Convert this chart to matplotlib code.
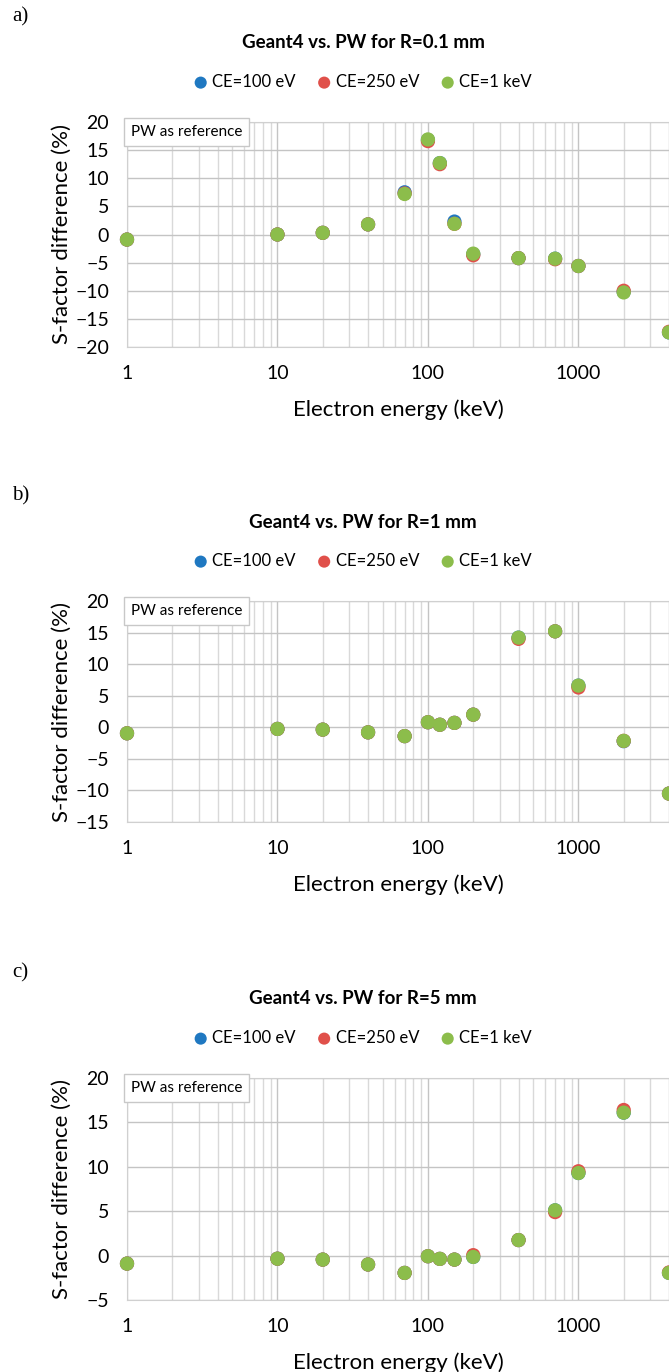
import numpy as np
import matplotlib
matplotlib.use("Agg")
from matplotlib import pyplot as plt
from matplotlib.ticker import FixedLocator, LogLocator, NullFormatter

plt.rcParams['font.family'] = ['Lato', 'DejaVu Sans']

energy = [1, 10, 20, 40, 70, 100, 120, 150, 200, 400, 700, 1000, 2000, 4000]

# panel a) R = 0.1 mm
a_ce100 = [-0.9, 0.0, 0.3, 1.8, 7.5, 16.8, 12.7, 2.3, -3.5, -4.2, -4.3, -5.6, -10.2, -17.4]
a_ce250 = [-0.9, 0.0, 0.3, 1.8, 7.3, 16.6, 12.5, 1.9, -3.7, -4.2, -4.4, -5.6, -10.0, -17.3]
a_ce1k = [-0.9, 0.0, 0.3, 1.8, 7.2, 16.9, 12.7, 1.9, -3.4, -4.2, -4.3, -5.6, -10.3, -17.4]

# panel b) R = 1 mm
b_ce100 = [-0.95, -0.26, -0.37, -0.8, -1.4, 0.8, 0.4, 0.7, 2.0, 14.2, 15.2, 6.6, -2.2, -10.5]
b_ce250 = [-0.95, -0.26, -0.37, -0.8, -1.4, 0.8, 0.4, 0.7, 2.0, 14.0, 15.2, 6.3, -2.15, -10.5]
b_ce1k = [-0.95, -0.26, -0.37, -0.8, -1.4, 0.8, 0.4, 0.7, 2.0, 14.2, 15.2, 6.6, -2.15, -10.5]

# panel c) R = 5 mm
c_ce100 = [-0.9, -0.35, -0.45, -1.0, -1.95, -0.07, -0.37, -0.45, -0.15, 1.75, 5.1, 9.3, 16.1, -1.95]
c_ce250 = [-0.9, -0.35, -0.45, -1.0, -1.95, -0.07, -0.37, -0.45, 0.05, 1.75, 4.9, 9.5, 16.4, -1.9]
c_ce1k = [-0.9, -0.35, -0.45, -1.0, -1.95, -0.07, -0.37, -0.45, -0.15, 1.75, 5.1, 9.3, 16.1, -1.95]

series_names = ['CE=100 eV', 'CE=250 eV', 'CE=1 keV']
colors = ['#1f78c1', '#e0504a', '#8cbd4b']

W, H = 669, 1372
fig = plt.figure(figsize=(W / 100, H / 100), dpi=100)

LEFT, RIGHT = 127, 669
CX = 363  # centre of title and legend


def fx(x):
    return x / W


def fy(y):
    return 1 - y / H


def panel(letter, title, ys, ylim, yticks, top, bottom):
    fig.text(fx(12), fy(top - 105), letter, fontsize=15, family='Liberation Serif',
             va='center', ha='left')
    fig.text(fx(CX), fy(top - 79), title, fontsize=13.5, fontweight='bold',
             va='center', ha='center')

    ax = fig.add_axes([fx(LEFT), fy(bottom), (RIGHT - LEFT) / W, (bottom - top) / H])
    for y, c, name in zip(ys, colors, series_names):
        ax.scatter(energy, y, s=105, color=c, label=name, zorder=3, clip_on=False,
                   edgecolors='none')
    ax.set_xscale('log')
    ax.set_xlim(1, 4000)
    ax.set_ylim(*ylim)
    ax.yaxis.set_major_locator(FixedLocator(yticks))
    ax.xaxis.set_major_locator(FixedLocator([1, 10, 100, 1000]))
    ax.xaxis.set_minor_locator(LogLocator(base=10, subs=np.arange(2, 10), numticks=20))
    ax.xaxis.set_minor_formatter(NullFormatter())
    ax.set_xticklabels(['1', '10', '100', '1000'])
    ax.grid(True, which='major', color='#c4c4c4', lw=1.0)
    ax.grid(True, which='minor', axis='x', color='#d9d9d9', lw=1.0)
    ax.set_axisbelow(True)
    for s in ax.spines.values():
        s.set_color('#d0d0d0')
    ax.tick_params(which='both', length=0, labelsize=14)
    ax.tick_params(axis='x', pad=13)
    ax.tick_params(axis='y', pad=13)
    fig.text(fx((LEFT + RIGHT) / 2), fy(bottom + 63), 'Electron energy (keV)',
             fontsize=16, ha='center', va='center')
    fig.text(fx(62), fy((top + bottom) / 2), 'S-factor difference (%)',
             fontsize=16, ha='center', va='center', rotation=90)
    ax.text(0.007, 0.988, 'PW as reference', transform=ax.transAxes, fontsize=11,
            va='top', ha='left', zorder=4,
            bbox=dict(boxstyle='square,pad=0.45', fc='white', ec='#c8c8c8', lw=1))

    handles, labels = ax.get_legend_handles_labels()
    fig.legend(handles, labels, loc='center', bbox_to_anchor=(fx(CX), fy(top - 40)),
               ncol=3, frameon=False, fontsize=12, handlelength=0.8,
               handletextpad=0.3, columnspacing=1.3, markerscale=0.85,
               scatterpoints=1, borderpad=0.2)
    return ax


panel('a)', 'Geant4 vs. PW for R=0.1 mm', [a_ce100, a_ce250, a_ce1k],
      (-20, 20), [-20, -15, -10, -5, 0, 5, 10, 15, 20], 122, 347)
panel('b)', 'Geant4 vs. PW for R=1 mm', [b_ce100, b_ce250, b_ce1k],
      (-15, 20), [-15, -10, -5, 0, 5, 10, 15, 20], 601, 822)
panel('c)', 'Geant4 vs. PW for R=5 mm', [c_ce100, c_ce250, c_ce1k],
      (-5, 20), [-5, 0, 5, 10, 15, 20], 1078, 1300)

fig.savefig('out.png', dpi=100)
